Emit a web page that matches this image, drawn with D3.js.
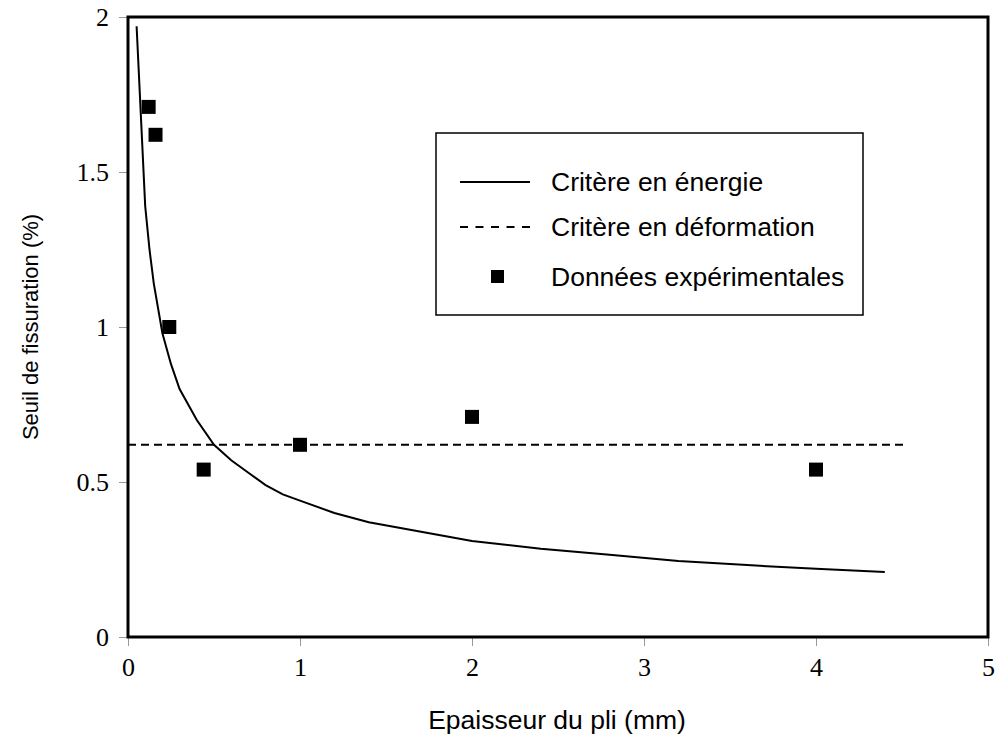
<!DOCTYPE html>
<html><head><meta charset="utf-8">
<script src="https://cdn.jsdelivr.net/npm/d3@7"></script>
<style>body{margin:0;background:#fff}svg{display:block}</style>
</head><body>
<script>
const xTicks = [0, 1, 2, 3, 4, 5];
const yTicks = [0, 0.5, 1, 1.5, 2];
const yTickLabels = ["0", "0.5", "1", "1.5", "2"];
const energyX = [0.05, 0.1, 0.125, 0.15, 0.2, 0.25, 0.3, 0.4, 0.5, 0.6, 0.7, 0.8, 0.9, 1, 1.2, 1.4, 1.6, 1.8, 2, 2.4, 2.8, 3.2, 3.6, 4, 4.4];
const energyY = [1.97, 1.39, 1.25, 1.14, 0.98, 0.88, 0.80, 0.70, 0.62, 0.57, 0.53, 0.49, 0.46, 0.44, 0.40, 0.37, 0.35, 0.33, 0.31, 0.285, 0.265, 0.245, 0.232, 0.22, 0.21];
const deformX = [0, 4.53];
const deformY = [0.62, 0.62];
const expX = [0.12, 0.16, 0.24, 0.44, 1, 2, 4];
const expY = [1.71, 1.62, 1.0, 0.54, 0.62, 0.71, 0.54];
const legendLabels = ["Critère en énergie", "Critère en déformation", "Données expérimentales"];

const W = 996, H = 746;
const L = 128, R = 988, T = 17, B = 637;
const svg = d3.select("body").append("svg").attr("width", W).attr("height", H);
const x = d3.scaleLinear().domain([0, 5]).range([L, R]);
const y = d3.scaleLinear().domain([0, 2]).range([B, T]);

// ticks
const xAxis = svg.append("g").attr("transform", `translate(0,${B})`)
  .call(d3.axisBottom(x).tickValues(xTicks).tickSize(9).tickFormat(d3.format("d")));
xAxis.select(".domain").remove();
xAxis.selectAll("line").attr("stroke", "#999");
xAxis.selectAll("text").attr("font-family", "'Liberation Serif', 'Times New Roman', serif")
  .attr("font-size", 26).attr("fill", "#000").attr("y", 21).attr("dy", "0.71em");

const yAxis = svg.append("g").attr("transform", `translate(${L},0)`)
  .call(d3.axisLeft(y).tickValues(yTicks).tickSize(9).tickFormat((d, i) => yTickLabels[i]));
yAxis.select(".domain").remove();
yAxis.selectAll("line").attr("stroke", "#999");
yAxis.selectAll("text").attr("font-family", "'Liberation Serif', 'Times New Roman', serif")
  .attr("font-size", 26).attr("fill", "#000").attr("x", -19).attr("dy", "0.32em");

// curves
const line = d3.line().x(d => x(d[0])).y(d => y(d[1]));
svg.append("path").datum(energyX.map((v, i) => [v, energyY[i]]))
  .attr("d", line).attr("fill", "none").attr("stroke", "#000").attr("stroke-width", 2);
svg.append("path").datum(deformX.map((v, i) => [v, deformY[i]]))
  .attr("d", line).attr("fill", "none").attr("stroke", "#000").attr("stroke-width", 2)
  .attr("stroke-dasharray", "8,5");

// markers
const ms = 14;
svg.append("g").selectAll("rect").data(expX.map((v, i) => [v, expY[i]])).join("rect")
  .attr("x", d => x(d[0]) - ms / 2).attr("y", d => y(d[1]) - ms / 2)
  .attr("width", ms).attr("height", ms).attr("fill", "#000");

// frame
svg.append("rect").attr("x", L).attr("y", T).attr("width", R - L).attr("height", B - T)
  .attr("fill", "none").attr("stroke", "#000").attr("stroke-width", 3);

// legend
const lg = svg.append("g");
lg.append("rect").attr("x", 436).attr("y", 133).attr("width", 427).attr("height", 182)
  .attr("fill", "#fff").attr("stroke", "#000").attr("stroke-width", 1.5);
const ly = [182, 227, 277];
lg.append("line").attr("x1", 460).attr("x2", 530).attr("y1", ly[0]).attr("y2", ly[0])
  .attr("stroke", "#000").attr("stroke-width", 2);
lg.append("line").attr("x1", 460).attr("x2", 530).attr("y1", ly[1]).attr("y2", ly[1])
  .attr("stroke", "#000").attr("stroke-width", 2).attr("stroke-dasharray", "8,7.5");
lg.append("rect").attr("x", 491).attr("y", ly[2] - 7).attr("width", 13).attr("height", 13).attr("fill", "#000");
lg.selectAll("text").data(legendLabels).join("text")
  .attr("x", 551).attr("y", (d, i) => ly[i]).attr("dy", "0.35em")
  .attr("font-family", "'Liberation Sans', Arial, sans-serif").attr("font-size", 26.5)
  .text(d => d);

// axis titles
svg.append("text").attr("x", 557).attr("y", 720).attr("text-anchor", "middle")
  .attr("font-family", "'Liberation Sans', Arial, sans-serif").attr("font-size", 26.5)
  .attr("dy", "0.35em").text("Epaisseur du pli (mm)");
svg.append("text").attr("transform", `translate(30,${(T + B) / 2}) rotate(-90)`)
  .attr("text-anchor", "middle").attr("dy", "0.35em")
  .attr("font-family", "'Liberation Sans', Arial, sans-serif").attr("font-size", 22)
  .text("Seuil de fissuration (%)");
</script>
</body></html>
